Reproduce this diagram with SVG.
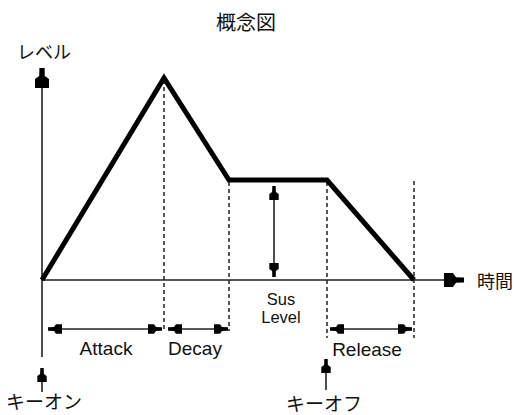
<svg xmlns="http://www.w3.org/2000/svg" width="515" height="415" viewBox="0 0 515 415">
<style>
.ln{stroke:#222;stroke-width:1.6;fill:none}
.dash{stroke:#222;stroke-width:1.5;stroke-dasharray:4 3;fill:none}
.env{stroke:#000;stroke-width:5;fill:none;stroke-linejoin:miter}
.lat{font-family:"Liberation Sans",Arial,sans-serif;fill:#111}
.jp{font-family:"Noto Sans CJK JP","Noto Sans",sans-serif;fill:#111}
</style>
<defs>
<marker id="big" markerUnits="userSpaceOnUse" viewBox="0 -8 20 16" refX="20" refY="0" markerWidth="20" markerHeight="16" orient="auto">
<path d="M20,-2.6 L20,2.6 L12,2.8 L9,7 L0,7 L0,-7 L9,-7 L12,-2.8 Z" fill="#000"/>
</marker>
<marker id="sm" markerUnits="userSpaceOnUse" viewBox="0 -5 14 10" refX="14" refY="0" markerWidth="14" markerHeight="10" orient="auto-start-reverse">
<path d="M14,-1.7 L14,1.7 L8,1.9 L6,4.7 L0,4.7 L0,-4.7 L6,-4.7 L8,-1.9 Z" fill="#000"/>
</marker>
</defs>
<g id="title"><text class="jp" x="246" y="30" font-size="20" text-anchor="middle">概念図</text></g>
<g id="axes">
<line class="ln" x1="42" y1="357" x2="42" y2="68" marker-end="url(#big)"/>
<line class="ln" x1="42" y1="280" x2="464" y2="280" marker-end="url(#big)"/>
<text class="jp" x="17" y="59" font-size="18">レベル</text>
<text class="jp" x="477" y="288" font-size="18">時間</text>
</g>
<g id="guides">
<line class="dash" x1="164" y1="80" x2="164" y2="331"/>
<line class="dash" x1="229" y1="182" x2="229" y2="331"/>
<line class="dash" x1="327" y1="182" x2="327" y2="338"/>
<line class="dash" x1="414" y1="181" x2="414" y2="338"/>
</g>
<g id="envelope"><polyline class="env" points="42,280 164,78 229,180 327,180 414,280"/></g>
<g id="connectors">
<line class="ln" x1="48" y1="329" x2="162" y2="329" marker-start="url(#sm)" marker-end="url(#sm)"/>
<line class="ln" x1="168" y1="329" x2="228" y2="329" marker-start="url(#sm)" marker-end="url(#sm)"/>
<line class="ln" x1="330" y1="329" x2="412" y2="329" marker-start="url(#sm)" marker-end="url(#sm)"/>
<line class="ln" x1="274" y1="186" x2="274" y2="277" marker-start="url(#sm)" marker-end="url(#sm)"/>
<line class="ln" x1="42" y1="392" x2="42" y2="368" marker-end="url(#sm)"/>
<line class="ln" x1="326" y1="390" x2="326" y2="359" marker-end="url(#sm)"/>
</g>
<g id="attack"><text class="lat" x="106" y="355" font-size="19" text-anchor="middle">Attack</text></g>
<g id="decay"><text class="lat" x="195" y="355" font-size="19" text-anchor="middle">Decay</text></g>
<g id="sus"><text class="lat" x="281" y="305" font-size="16.5" text-anchor="middle">Sus</text><text class="lat" x="281" y="323" font-size="16.5" text-anchor="middle">Level</text></g>
<g id="release"><text class="lat" x="367" y="356" font-size="19" text-anchor="middle">Release</text></g>
<g id="keyon"><text class="jp" x="6" y="409" font-size="19">キーオン</text></g>
<g id="keyoff"><text class="jp" x="286" y="411" font-size="19">キーオフ</text></g>
</svg>
